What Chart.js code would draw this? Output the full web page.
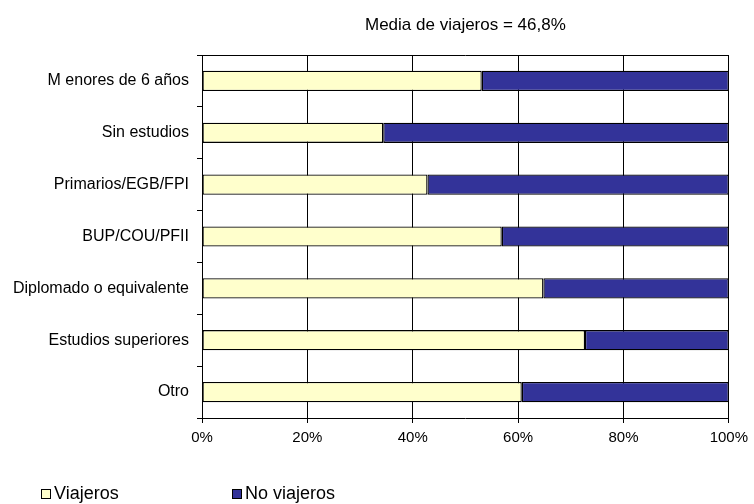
<!DOCTYPE html>
<html>
<head>
<meta charset="utf-8">
<script src="https://cdn.jsdelivr.net/npm/chart.js"></script>
<style>
  html, body { margin: 0; padding: 0; background: #fff; }
  #wrap { width: 754px; height: 504px; position: relative; }
</style>
</head>
<body>
<div id="wrap"><canvas id="chart"></canvas></div>
<script>
// Datos (porcentaje)
const categorias = [
  "M enores de 6 años",
  "Sin estudios",
  "Primarios/EGB/FPI",
  "BUP/COU/PFII",
  "Diplomado o equivalente",
  "Estudios superiores",
  "Otro"
];
const viajeros   = [53.1, 34.4, 42.8, 56.9, 64.8, 72.7, 60.7];
const noViajeros = [46.9, 65.6, 57.2, 43.1, 35.2, 27.3, 39.3];
const ticksX = [0, 20, 40, 60, 80, 100];
const titulo = "Media de viajeros = 46,8%";

const FONT = "'Liberation Sans', Arial, sans-serif";

// marco superior + título + leyenda
const extras = {
  id: "extras",
  afterDraw(chart) {
    const { ctx, chartArea: a } = chart;
    ctx.save();
    ctx.strokeStyle = "#000";
    ctx.lineWidth = 1;
    ctx.beginPath();
    ctx.moveTo(a.left, a.top + 0.5);
    ctx.lineTo(a.right, a.top + 0.5);
    ctx.stroke();

    ctx.fillStyle = "#000";
    ctx.font = "17px " + FONT;
    ctx.textAlign = "center";
    ctx.textBaseline = "middle";
    ctx.fillText(titulo, (a.left + a.right) / 2, 25);

    const xs = [41, 232];
    ctx.font = "18px " + FONT;
    ctx.textAlign = "left";
    chart.data.datasets.forEach((ds, i) => {
      const x = xs[i], y = 494;
      ctx.fillStyle = ds.backgroundColor;
      ctx.fillRect(x + 0.5, y - 4.5, 9, 9);
      ctx.strokeStyle = "#000";
      ctx.strokeRect(x + 0.5, y - 4.5, 9, 9);
      ctx.fillStyle = "#000";
      ctx.fillText(ds.label, x + 13, y);
    });
    ctx.restore();
  }
};

new Chart(document.getElementById("chart"), {
  type: "bar",
  data: {
    labels: categorias,
    datasets: [
      {
        label: "Viajeros",
        data: viajeros,
        backgroundColor: "#FFFFCC",
        borderColor: "#000",
        borderWidth: 1.3,
        borderSkipped: false,
        categoryPercentage: 1,
        barPercentage: 0.39
      },
      {
        label: "No viajeros",
        data: noViajeros,
        backgroundColor: "#333399",
        borderColor: "#000",
        borderWidth: 1.3,
        borderSkipped: false,
        categoryPercentage: 1,
        barPercentage: 0.39
      }
    ]
  },
  options: {
    indexAxis: "y",
    responsive: true,
    maintainAspectRatio: false,
    animation: false,
    layout: { padding: { top: 55, right: 25, bottom: 56, left: 0 } },
    plugins: {
      legend: { display: false },
      title: { display: false },
      tooltip: { enabled: false }
    },
    scales: {
      x: {
        stacked: true,
        min: 0,
        max: 100,
        afterBuildTicks(scale) {
          scale.ticks = ticksX.map(v => ({ value: v }));
        },
        afterFit(scale) { scale.height = 30; },
        ticks: {
          color: "#000",
          font: { family: FONT, size: 15 },
          padding: 6,
          maxRotation: 0,
          callback: v => v + "%"
        },
        grid: { color: "#000", lineWidth: 1, tickLength: 5, drawOnChartArea: true },
        border: { color: "#000", width: 1 }
      },
      y: {
        stacked: true,
        afterFit(scale) { scale.width = 202; },
        ticks: {
          color: "#000",
          font: { family: FONT, size: 16 },
          padding: 8
        },
        grid: { color: "#000", lineWidth: 1, tickLength: 5, drawOnChartArea: false, offset: true },
        border: { color: "#000", width: 1 }
      }
    }
  },
  plugins: [extras]
});
</script>
</body>
</html>
